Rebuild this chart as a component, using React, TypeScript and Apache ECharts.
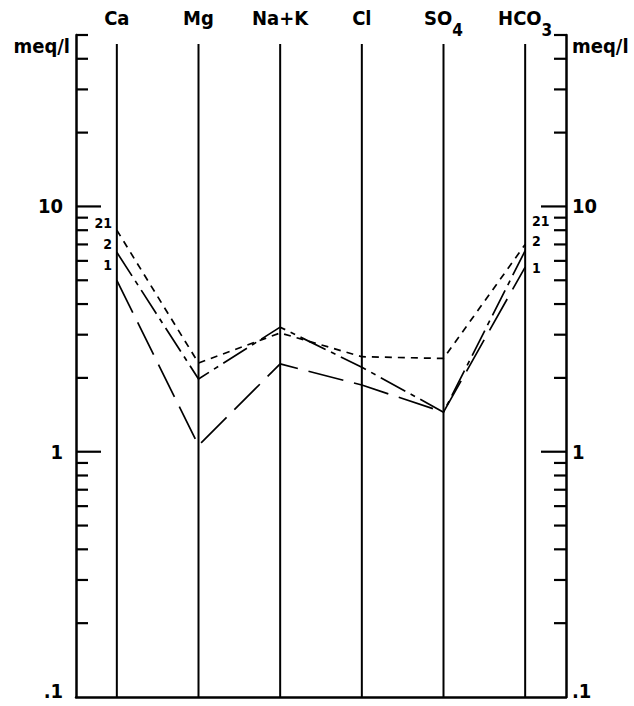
import React, { useEffect, useRef } from "react";
import * as echarts from "echarts";

// ---- data ----
const categories = ["Ca", "Mg", "Na+K", "Cl", "SO4", "HCO3"];
const categoryLabels = ["{n|Ca}", "{n|Mg}", "{n|Na+K}", "{n|Cl}", "{n|SO}{s|4}", "{n|HCO}{s|3}"];
const sample21 = [8.0, 2.3, 3.05, 2.44, 2.4, 7.0];
const sample2 = [6.5, 1.98, 3.22, 2.21, 1.45, 6.6];
const sample1 = [5.0, 1.06, 2.28, 1.87, 1.45, 5.66];
const axisMin = 0.1;
const axisMax = 50;
const columnTop = 46;
const majorTicks = [1, 10];
const minorTicks = [0.2, 0.3, 0.4, 0.5, 0.6, 0.7, 0.8, 0.9, 2, 3, 4, 5, 6, 7, 8, 9, 20, 30, 40, 50];
const scaleLabelValues = [0.1, 1, 10];
const scaleLabelTexts = [".1", "1", "10"];
const leftTagTexts = ["21", "2", "1"];
const leftTagValues = [8.6, 7.03, 5.77];
const rightTagTexts = ["21", "2", "1"];
const rightTagValues = [8.75, 7.2, 5.61];
const unitText = "meq/l";

const FONT = "'DejaVu Sans Condensed', 'DejaVu Sans', sans-serif";

export default function App() {
  const ref = useRef<HTMLDivElement>(null);
  useEffect(() => {
    if (!ref.current) return;
    const chart = echarts.init(ref.current, undefined, { renderer: "svg" });

    const tickSeries = (values: number[], len: number) => ({
      type: "custom",
      xAxisIndex: 0,
      yAxisIndex: 0,
      silent: true,
      data: values.map((v) => [0, v]),
      renderItem: (params: any, api: any) => {
        const y = api.coord([0, api.value(1)])[1];
        const cs = params.coordSys;
        return {
          type: "group",
          children: [
            { type: "line", shape: { x1: cs.x, y1: y, x2: cs.x + len, y2: y }, style: { stroke: "#000", lineWidth: 2.2 } },
            { type: "line", shape: { x1: cs.x + cs.width - len, y1: y, x2: cs.x + cs.width, y2: y }, style: { stroke: "#000", lineWidth: 2.2 } },
          ],
        };
      },
    });

    const scaleLabelSeries = {
      type: "custom",
      xAxisIndex: 0,
      yAxisIndex: 0,
      silent: true,
      data: scaleLabelValues.map((v, i) => [0, v, i]),
      renderItem: (params: any, api: any) => {
        const cs = params.coordSys;
        const y = Math.min(api.coord([0, api.value(1)])[1], cs.y + cs.height - 6);
        const t = scaleLabelTexts[api.value(2)];
        const st = { fill: "#000", font: `bold 20px ${FONT}`, textVerticalAlign: "middle" };
        return {
          type: "group",
          children: [
            { type: "text", x: cs.x - 13, y, style: { ...st, text: t, textAlign: "right" } },
            { type: "text", x: cs.x + cs.width + 6, y, style: { ...st, text: t, textAlign: "left" } },
          ],
        };
      },
    };

    const tagSeries = (texts: string[], values: number[], side: "left" | "right") => ({
      type: "custom",
      xAxisIndex: 0,
      yAxisIndex: 0,
      silent: true,
      data: values.map((v, i) => [0, v, i]),
      renderItem: (params: any, api: any) => {
        const y = api.coord([0, api.value(1)])[1];
        const cs = params.coordSys;
        const t = texts[api.value(2)];
        return {
          type: "text",
          x: side === "left" ? cs.x + 36 : cs.x + cs.width - 34,
          y,
          style: {
            text: t,
            fill: "#000",
            font: `bold 14px ${FONT}`,
            textAlign: side === "left" ? "right" : "left",
            textVerticalAlign: "middle",
          },
        };
      },
    });

    const columnSeries = {
      type: "custom",
      xAxisIndex: 0,
      yAxisIndex: 0,
      silent: true,
      data: categories.map((_, i) => [i, columnTop]),
      renderItem: (_params: any, api: any) => {
        const i = api.value(0);
        const p0 = api.coord([i, axisMin]);
        const p1 = api.coord([i, api.value(1)]);
        return {
          type: "line",
          shape: { x1: p0[0], y1: p0[1], x2: p1[0], y2: p1[1] },
          style: { stroke: "#000", lineWidth: 2 },
        };
      },
    };

    const lineSeries = (name: string, data: number[], dash: number[]) => ({
      type: "line",
      name,
      xAxisIndex: 0,
      yAxisIndex: 0,
      data,
      symbol: "none",
      showSymbol: false,
      silent: true,
      lineStyle: { color: "#000", width: 1.7, type: dash },
      z: 3,
    });

    const logAxis = (position: "left" | "right") => ({
      type: "log",
      logBase: 10,
      min: axisMin,
      max: axisMax,
      position,
      axisLine: { show: true, lineStyle: { color: "#000", width: 2.5 } },
      axisTick: { show: false },
      axisLabel: { show: false },
      splitLine: { show: false },
      minorTick: { show: false },
    });

    chart.setOption({
      animation: false,
      backgroundColor: "#fff",
      grid: { left: 76, right: 68, top: 35, bottom: 9, containLabel: false },
      xAxis: [
        {
          type: "category",
          data: categories,
          position: "top",
          boundaryGap: true,
          axisLine: { show: false },
          axisTick: { show: false },
          splitLine: { show: false },
          axisLabel: {
            show: true,
            interval: 0,
            margin: 27,
            verticalAlign: "top",
            formatter: (_v: string, i: number) => categoryLabels[i],
            rich: {
              n: { fontFamily: FONT, fontWeight: "bold", fontSize: 20, lineHeight: 20, color: "#000", verticalAlign: "top" },
              s: { fontFamily: FONT, fontWeight: "bold", fontSize: 17, lineHeight: 30, color: "#000", verticalAlign: "bottom" },
            },
          },
        },
        {
          type: "category",
          data: categories,
          position: "bottom",
          axisLine: { show: true, onZero: false, lineStyle: { color: "#000", width: 2.5 } },
          axisTick: { show: false },
          axisLabel: { show: false },
          splitLine: { show: false },
        },
      ],
      yAxis: [logAxis("left"), logAxis("right")],
      graphic: [
        {
          type: "text",
          right: 634 - 70,
          top: 36,
          style: { text: unitText, fill: "#000", font: `bold 20px ${FONT}` },
        },
        {
          type: "text",
          left: 572,
          top: 36,
          style: { text: unitText, fill: "#000", font: `bold 20px ${FONT}` },
        },
      ],
      series: [
        columnSeries,
        tickSeries(minorTicks, 12),
        tickSeries(majorTicks, 25),
        scaleLabelSeries,
        tagSeries(leftTagTexts, leftTagValues, "left"),
        tagSeries(rightTagTexts, rightTagValues, "right"),
        lineSeries("21", sample21, [7, 6]),
        lineSeries("2", sample2, [28, 6, 5, 6]),
        lineSeries("1", sample1, [36, 11]),
      ],
    });
    return () => chart.dispose();
  }, []);
  return (
    <div
      ref={ref}
      style={{ position: "absolute", left: 0, top: 0, width: 634, height: 706, background: "#fff" }}
    />
  );
}
